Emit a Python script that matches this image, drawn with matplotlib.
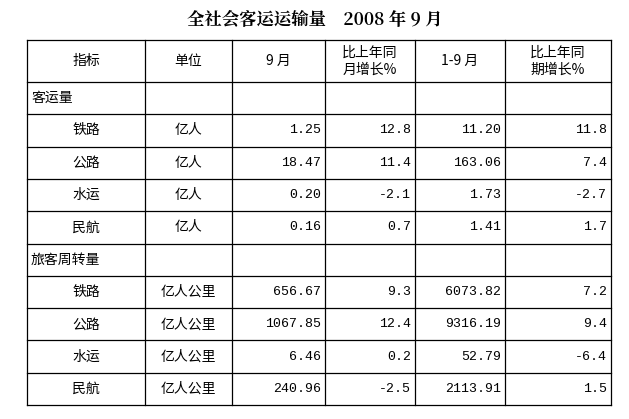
import matplotlib
matplotlib.use("Agg")
import matplotlib.pyplot as plt

plt.rcParams['font.family'] = ['Noto Sans CJK SC', 'DejaVu Sans']
MONO = ['Liberation Mono', 'Noto Sans CJK SC']

title = "全社会客运运输量　2008 年 9 月"
headers = ["指标", "单位", "9 月", "比上年同\n月增长%", "1-9 月", "比上年同\n期增长%"]
section1 = "客运量"
section2 = "旅客周转量"
modes = ["铁路", "公路", "水运", "民航"]
units1 = ["亿人"] * 4
units2 = ["亿人公里"] * 4
sep1 = ["1.25", "18.47", "0.20", "0.16"]
g1 = ["12.8", "11.4", "-2.1", "0.7"]
ytd1 = ["11.20", "163.06", "1.73", "1.41"]
gy1 = ["11.8", "7.4", "-2.7", "1.7"]
sep2 = ["656.67", "1067.85", "6.46", "240.96"]
g2 = ["9.3", "12.4", "0.2", "-2.5"]
ytd2 = ["6073.82", "9316.19", "52.79", "2113.91"]
gy2 = ["7.2", "9.4", "-6.4", "1.5"]

W, H = 629, 419
fig = plt.figure(figsize=(W/100, H/100), dpi=100)
ax = fig.add_axes([0, 0, 1, 1])
ax.set_xlim(0, W); ax.set_ylim(H, 0); ax.axis('off')

xs = [27, 145, 232, 325, 415, 505, 611]
top, hdr_bot, bot = 40, 82, 405
nrows = 10
rh = (bot - hdr_bot) / nrows
ys = [top, hdr_bot] + [hdr_bot + rh*(i+1) for i in range(nrows)]

ax.text(W/2, 19, title, ha='center', va='center', fontsize=12.5, fontweight='bold',
        family=['Noto Serif CJK SC', 'Noto Sans CJK SC', 'DejaVu Serif'])
for x in xs:
    ax.plot([x, x], [top, bot], color='black', lw=0.9)
for y in ys:
    ax.plot([xs[0], xs[-1]], [y, y], color='black', lw=0.9)

fs = 10
for i, h in enumerate(headers):
    ax.text((xs[i]+xs[i+1])/2, (top+hdr_bot)/2, h, ha='center', va='center', fontsize=fs, linespacing=1.3)

rows = [(section1, None)]
for k in range(4):
    rows.append((modes[k], [units1[k], sep1[k], g1[k], ytd1[k], gy1[k]]))
rows.append((section2, None))
for k in range(4):
    rows.append((modes[k], [units2[k], sep2[k], g2[k], ytd2[k], gy2[k]]))

for r, (name, vals) in enumerate(rows):
    yc = ys[r+1] + rh/2
    if vals is None:
        ax.text(xs[0]+4, yc, name, ha='left', va='center', fontsize=fs)
        continue
    ax.text((xs[0]+xs[1])/2, yc, name, ha='center', va='center', fontsize=fs)
    ax.text((xs[1]+xs[2])/2, yc, vals[0], ha='center', va='center', fontsize=fs)
    for j, v in enumerate(vals[1:]):
        ax.text(xs[3+j]-4, yc, v, ha='right', va='center', fontsize=9.5, family=MONO)

fig.savefig("out.png", dpi=100, facecolor='white')
